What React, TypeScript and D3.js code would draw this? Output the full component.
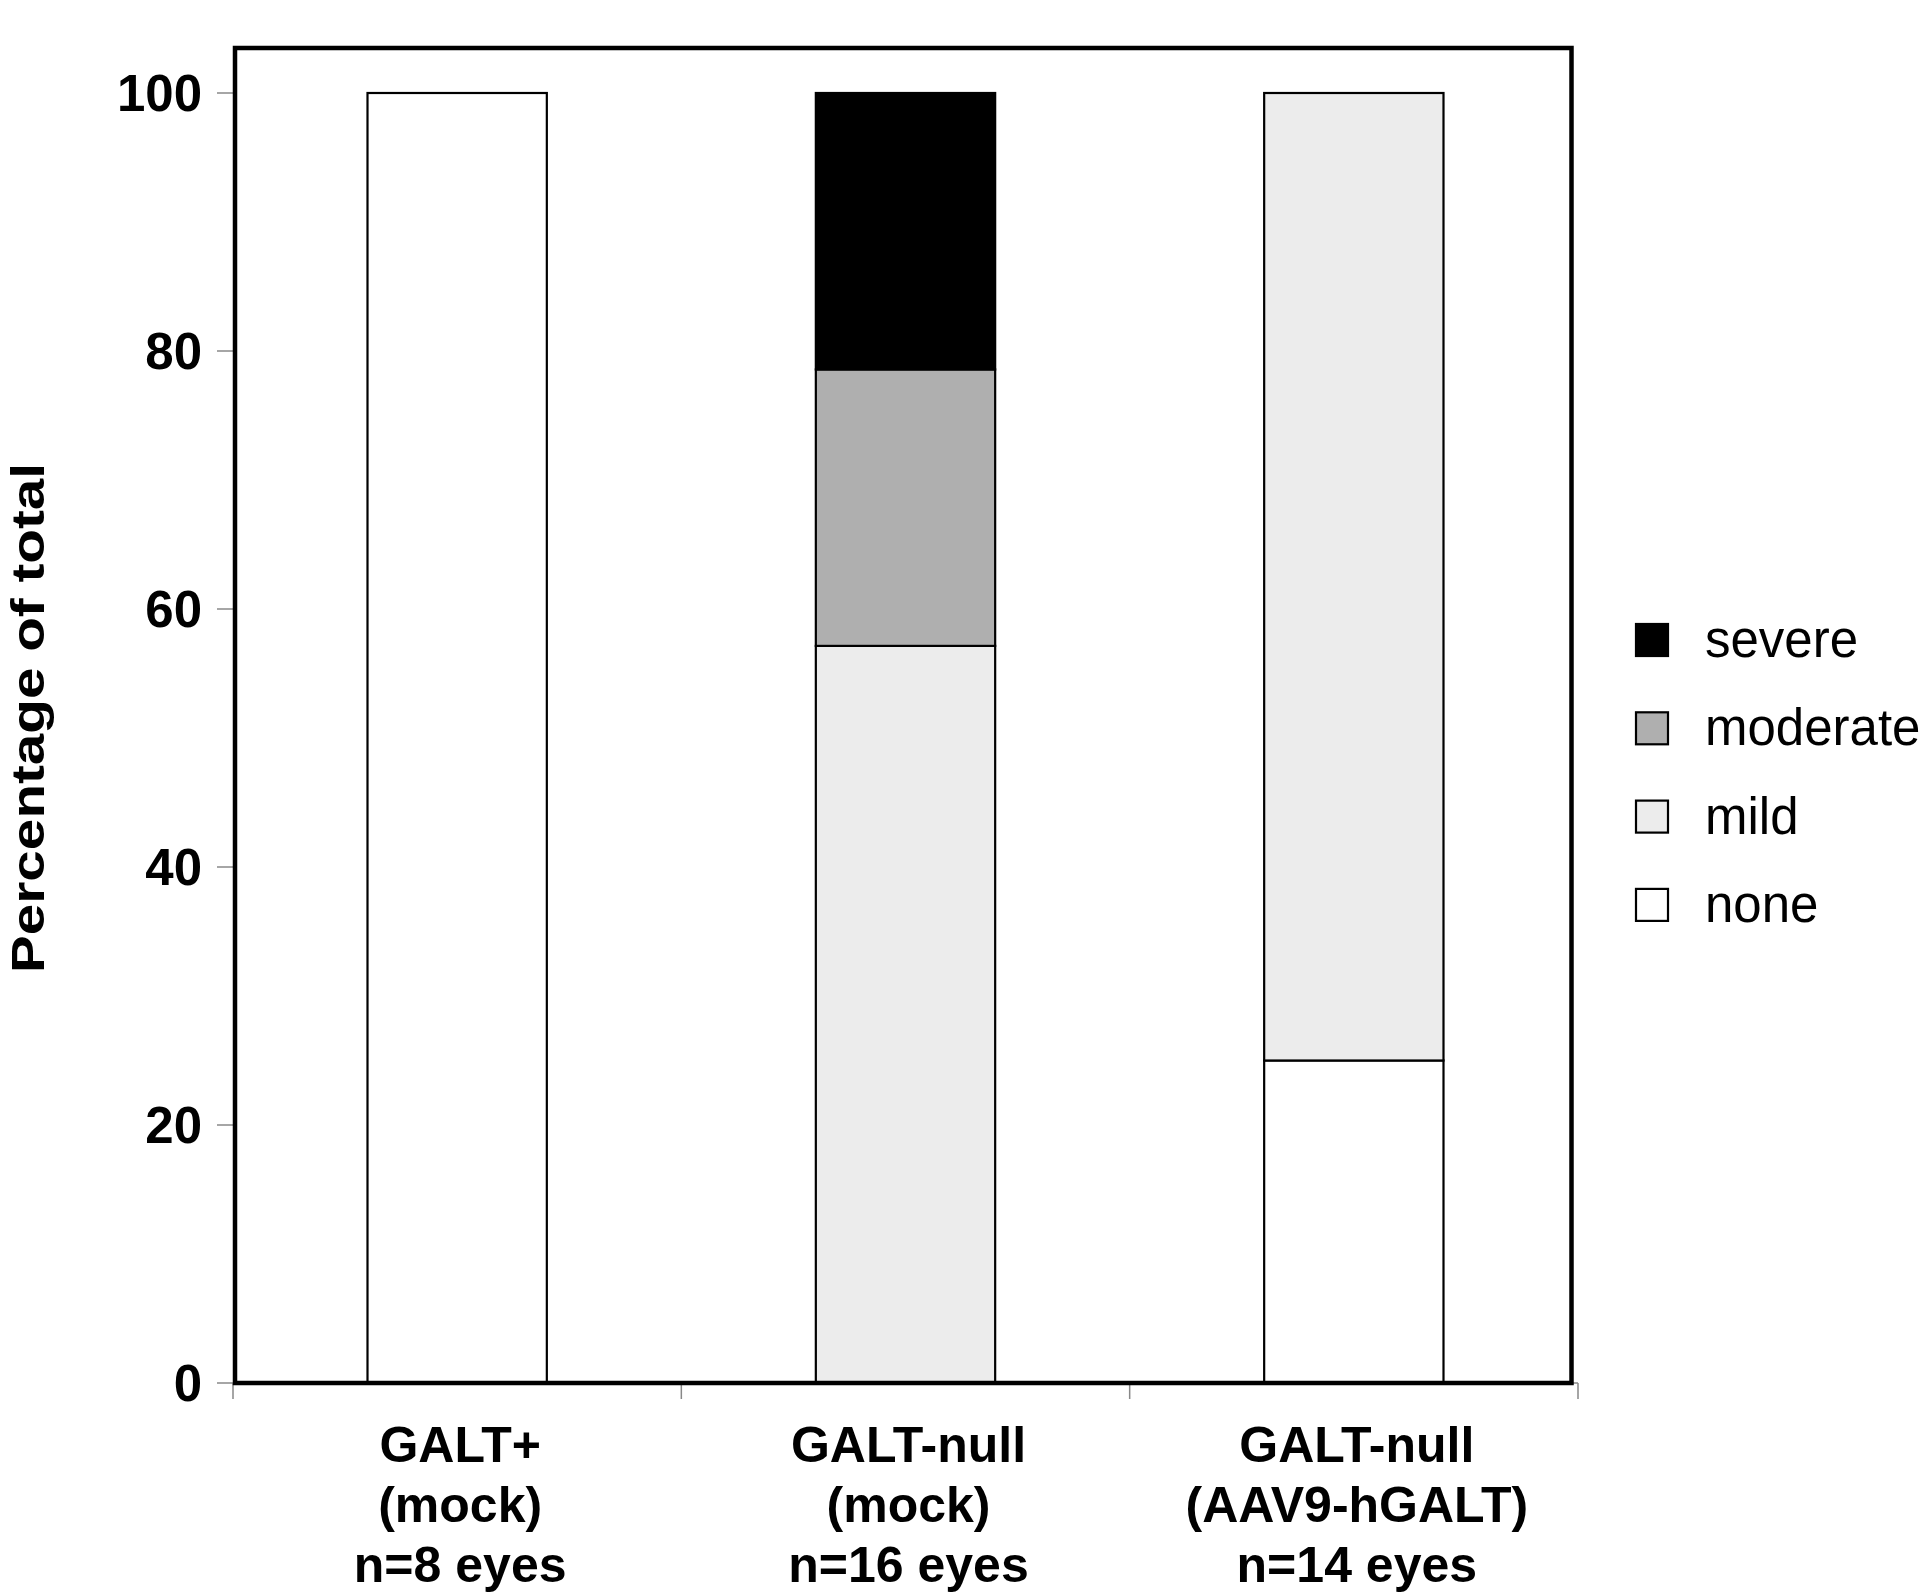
import React from "react";
import * as d3 from "d3";

const categories = ["GALT+ (mock)", "GALT-null (mock)", "GALT-null (AAV9-hGALT)"];
const categoryLabels: string[][] = [
  ["GALT+", "(mock)", "n=8 eyes"],
  ["GALT-null", "(mock)", "n=16 eyes"],
  ["GALT-null", "(AAV9-hGALT)", "n=14 eyes"],
];
const noneValues = [100, 0, 25];
const mildValues = [0, 57.14, 75];
const moderateValues = [0, 21.43, 0];
const severeValues = [0, 21.43, 0];
const seriesKeys = ["none", "mild", "moderate", "severe"];
const seriesColors = ["#ffffff", "#ececec", "#afafaf", "#000000"];
const legendOrder = ["severe", "moderate", "mild", "none"];
const yTicks = [0, 20, 40, 60, 80, 100];

const W = 1920;
const H = 1593;
const FONT = "'Liberation Sans', Arial, Helvetica, sans-serif";

export default function App() {
  const rows = categories.map((c, i) => ({
    cat: c,
    none: noneValues[i],
    mild: mildValues[i],
    moderate: moderateValues[i],
    severe: severeValues[i],
  }));
  const stacked = d3.stack<any>().keys(seriesKeys)(rows);

  const x = d3
    .scaleBand<string>()
    .domain(categories)
    .range([233, 1578])
    .paddingInner(0.6)
    .paddingOuter(0.3);
  const y = d3.scaleLinear().domain([0, 100]).range([1383, 93]);
  const color = d3.scaleOrdinal<string, string>().domain(seriesKeys).range(seriesColors);

  const frame = { x0: 235, y0: 48, x1: 1571.5, y1: 1383 };

  return (
    <svg
      width={W}
      height={H}
      style={{ position: "absolute", left: 0, top: 0, background: "#fff" }}
      fontFamily={FONT}
    >
      <rect x={0} y={0} width={W} height={H} fill="#fff" />
      {/* bars */}
      {stacked.map((s) => (
        <g key={s.key}>
          {s.map((d, i) =>
            d[1] - d[0] > 0 ? (
              <rect
                key={i}
                x={x(categories[i])!}
                y={y(d[1])}
                width={x.bandwidth()}
                height={y(d[0]) - y(d[1])}
                fill={color(s.key)}
                stroke="#000"
                strokeWidth={2.2}
              />
            ) : null
          )}
        </g>
      ))}
      {/* x axis line & ticks (gray) */}
      <line x1={233} x2={1578} y1={1383} y2={1383} stroke="#888" strokeWidth={1.5} />
      {[0, 1, 2, 3].map((k) => {
        const xv = 233 + (k * (1578 - 233)) / 3;
        return <line key={k} x1={xv} x2={xv} y1={1383} y2={1399} stroke="#888" strokeWidth={1.5} />;
      })}
      {/* y ticks */}
      {yTicks.map((t) => (
        <g key={t}>
          <line x1={217} x2={235} y1={y(t)} y2={y(t)} stroke="#888" strokeWidth={1.5} />
          <text
            x={202}
            y={y(t)}
            dy="0.36em"
            textAnchor="end"
            fontSize={51}
            fontWeight="bold"
            fill="#000"
          >
            {t}
          </text>
        </g>
      ))}
      {/* frame */}
      <rect
        x={frame.x0}
        y={frame.y0}
        width={frame.x1 - frame.x0}
        height={frame.y1 - frame.y0}
        fill="none"
        stroke="#000"
        strokeWidth={4.5}
      />
      {/* x labels */}
      {categoryLabels.map((lines, i) => {
        const cx = x(categories[i])! + x.bandwidth() / 2 + 3;
        return (
          <text key={i} textAnchor="middle" fontSize={50} fontWeight="bold" fill="#000">
            {lines.map((l, j) => (
              <tspan key={j} x={cx} y={1462 + j * 60}>
                {l}
              </tspan>
            ))}
          </text>
        );
      })}
      {/* y title */}
      <text
        transform="translate(44,718) rotate(-90)"
        textAnchor="middle"
        fontSize={47}
        fontWeight="bold"
        textLength={510}
        lengthAdjust="spacingAndGlyphs"
        fill="#000"
      >
        Percentage of total
      </text>
      {/* legend */}
      {legendOrder.map((k, i) => {
        const cy = 640 + i * 88.3;
        return (
          <g key={k}>
            <rect
              x={1636}
              y={cy - 16}
              width={32}
              height={32}
              fill={color(k)}
              stroke="#000"
              strokeWidth={2.2}
            />
            <text x={1705} y={cy + 17} fontSize={51} fill="#000">
              {k}
            </text>
          </g>
        );
      })}
    </svg>
  );
}
